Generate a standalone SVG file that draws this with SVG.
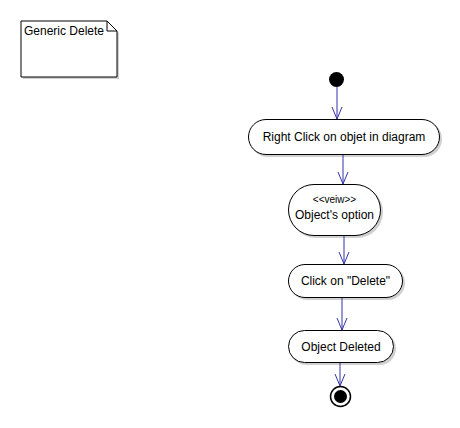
<svg xmlns="http://www.w3.org/2000/svg" width="460" height="428" viewBox="0 0 460 428">
<defs>
<style>
.n{fill:#fff;stroke:#000;stroke-width:1}
.sh{fill:#d0d0d0}
.t{font-family:"Liberation Sans",Arial,sans-serif;font-size:12px;fill:#000}
.s{font-family:"Liberation Sans",Arial,sans-serif;font-size:10px;fill:#000}
.c{stroke:#3333aa;stroke-width:1;fill:none}
</style>
<marker id="ah" viewBox="0 0 14 12" refX="13" refY="6" markerWidth="14" markerHeight="12" markerUnits="userSpaceOnUse" orient="auto">
<path d="M1,1 L13,6 L1,11" fill="none" stroke="#3333aa" stroke-width="1"/>
</marker>
</defs>
<rect width="460" height="428" fill="#fff"/>
<g id="note">
<path class="sh" d="M23,23 L109,23 L119,33 L119,79 L23,79 Z"/>
<path class="n" d="M21,21 L107,21 L117,31 L117,77 L21,77 Z"/>
<path d="M107,21 L107,31 L117,31" fill="none" stroke="#000"/>
<text class="t" x="24" y="35">Generic Delete</text>
</g>
<g id="start"><circle cx="336.5" cy="79.5" r="7.5" fill="#000"/></g>
<g id="a1">
<rect class="sh" x="250" y="121" width="192" height="36" rx="18"/>
<rect class="n" x="248.5" y="119.5" width="191" height="35" rx="17.5"/>
<text class="t" x="344" y="141" text-anchor="middle">Right Click on objet in diagram</text>
</g>
<g id="a2">
<rect class="sh" x="290" y="186" width="93" height="52" rx="26"/>
<rect class="n" x="288.5" y="184.5" width="92" height="51" rx="25.5"/>
<text class="s" x="334.5" y="203" text-anchor="middle">&lt;&lt;veiw&gt;&gt;</text>
<text class="t" x="334.5" y="219" text-anchor="middle">Object's option</text>
</g>
<g id="a3">
<rect class="sh" x="290" y="266" width="115" height="34" rx="17"/>
<rect class="n" x="288.5" y="264.5" width="114" height="33" rx="16.5"/>
<text class="t" x="345.5" y="285" text-anchor="middle">Click on "Delete"</text>
</g>
<g id="a4">
<rect class="sh" x="290" y="332" width="106" height="33" rx="16.5"/>
<rect class="n" x="288.5" y="330.5" width="105" height="32" rx="16"/>
<text class="t" x="341" y="351" text-anchor="middle">Object Deleted</text>
</g>
<g id="end">
<circle cx="340.5" cy="396.5" r="10" fill="#fff" stroke="#000" stroke-width="1.5"/>
<circle cx="340.5" cy="396.5" r="6.5" fill="#000"/>
</g>
<g id="connectors">
<line class="c" x1="337" y1="87" x2="337" y2="119" marker-end="url(#ah)"/>
<line class="c" x1="343" y1="155" x2="343" y2="184" marker-end="url(#ah)"/>
<line class="c" x1="344" y1="236" x2="344" y2="264" marker-end="url(#ah)"/>
<line class="c" x1="342" y1="298" x2="342" y2="330" marker-end="url(#ah)"/>
<line class="c" x1="340" y1="363" x2="340" y2="386" marker-end="url(#ah)"/>
</g>
</svg>
